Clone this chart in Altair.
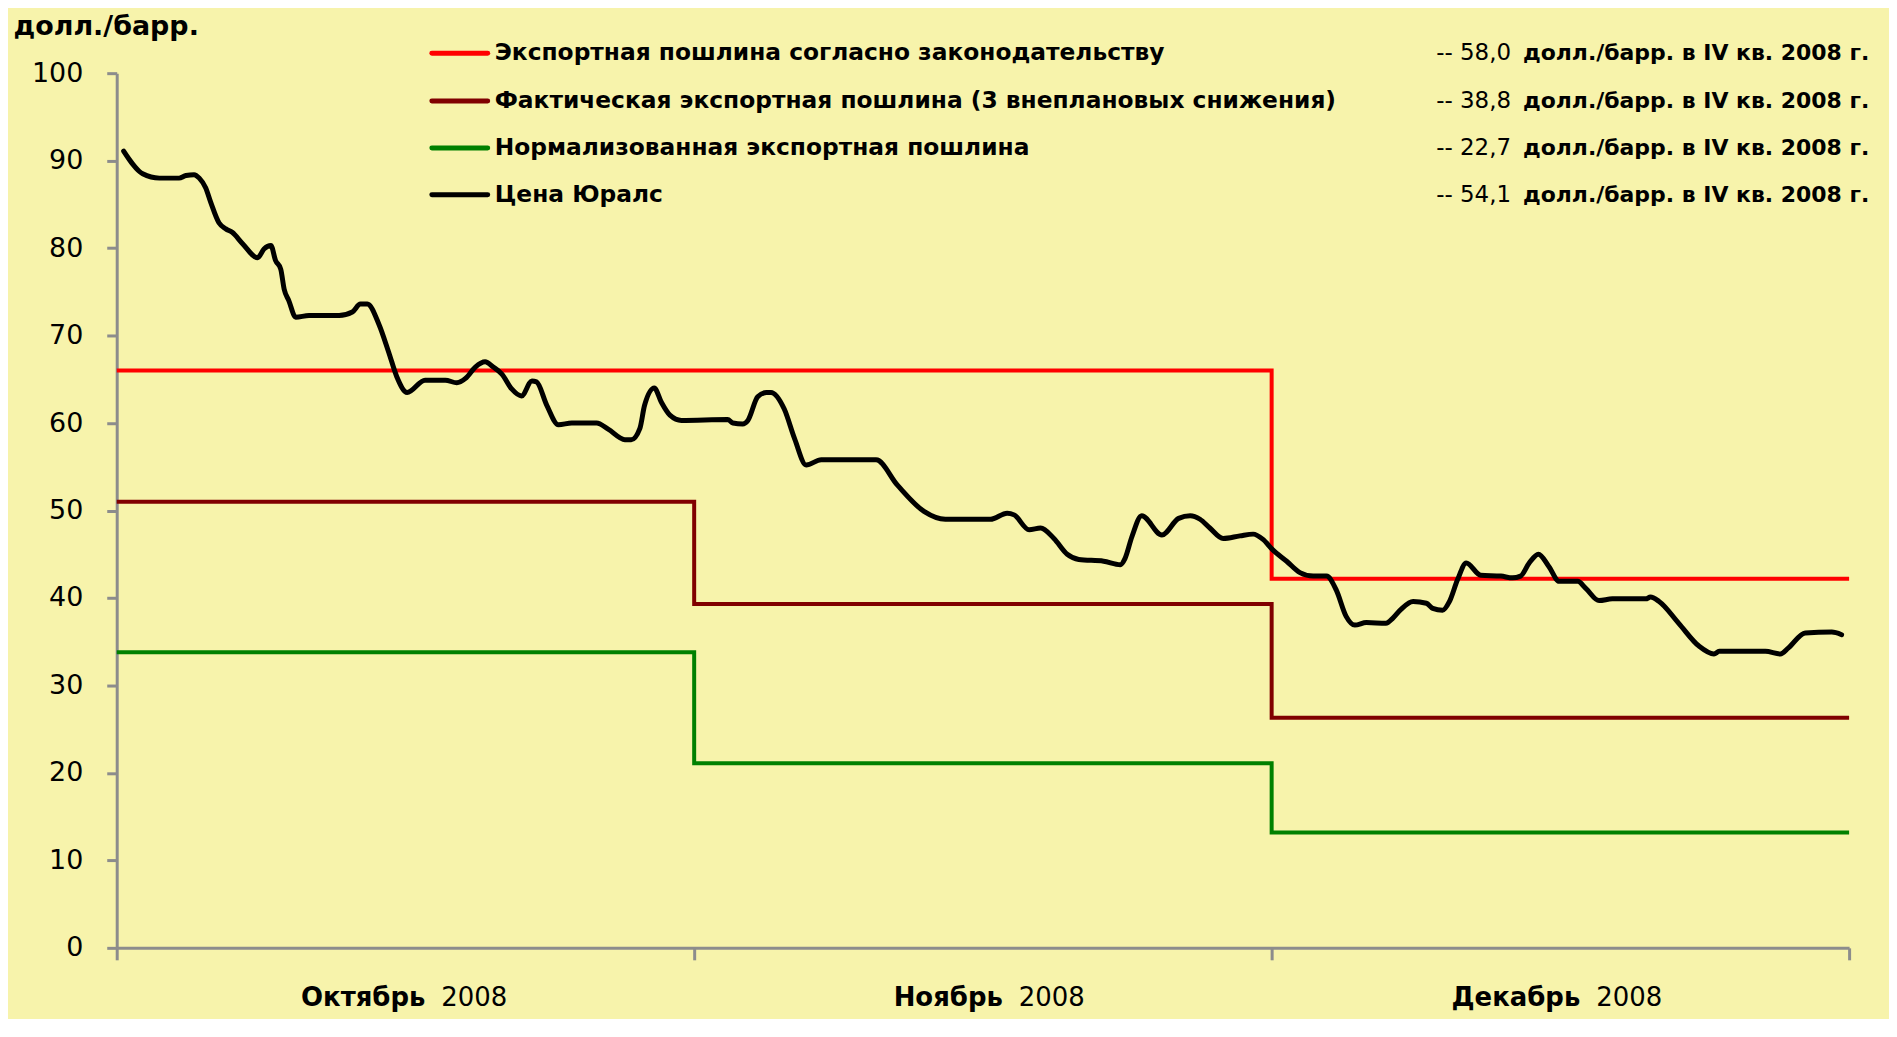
import altair as alt
import pandas as pd

# ---------------- data ----------------
# Urals price, t = months since 1 Oct 2008 (0..3), value in USD/bbl
urals_t = [0.012, 0.045, 0.074, 0.108, 0.120, 0.134, 0.143, 0.154, 0.163, 0.177,
           0.189, 0.200, 0.218, 0.244, 0.255, 0.267, 0.275, 0.284, 0.290, 0.298,
           0.310, 0.333, 0.385, 0.408, 0.422, 0.434, 0.454, 0.471, 0.485, 0.503,
           0.534, 0.569, 0.589, 0.604, 0.621, 0.638, 0.652, 0.667, 0.684, 0.701,
           0.719, 0.727, 0.745, 0.765, 0.788, 0.831, 0.851, 0.880, 0.891, 0.906,
           0.914, 0.931, 0.943, 0.958, 0.978, 1.058, 1.067, 1.084, 1.093, 1.110,
           1.125, 1.133, 1.156, 1.174, 1.194, 1.220, 1.248, 1.315, 1.352, 1.398,
           1.435, 1.513, 1.542, 1.554, 1.580, 1.600, 1.623, 1.646, 1.666, 1.709,
           1.738, 1.746, 1.758, 1.775, 1.810, 1.839, 1.859, 1.876, 1.893, 1.916,
           1.945, 1.968, 1.985, 2.002, 2.026, 2.049, 2.072, 2.095, 2.112, 2.129,
           2.144, 2.164, 2.198, 2.210, 2.224, 2.245, 2.268, 2.279, 2.296, 2.308,
           2.322, 2.337, 2.362, 2.397, 2.417, 2.431, 2.446, 2.462, 2.480, 2.498,
           2.530, 2.544, 2.567, 2.590, 2.648, 2.656, 2.671, 2.705, 2.740, 2.766,
           2.775, 2.855, 2.881, 2.895, 2.924, 2.970, 2.987]
urals_v = [91.1, 88.5, 88.0, 88.0, 88.3, 88.4, 88.0, 86.9, 85.2, 82.9,
           82.2, 81.8, 80.5, 78.9, 79.9, 80.3, 78.6, 77.6, 75.3, 74.0,
           72.1, 72.3, 72.3, 72.7, 73.6, 73.6, 71.3, 68.1, 65.3, 63.5,
           64.9, 64.9, 64.6, 65.1, 66.4, 67.0, 66.4, 65.6, 63.9, 63.1,
           64.8, 64.7, 62.0, 59.8, 60.0, 60.0, 59.3, 58.1, 58.1, 59.4,
           62.0, 64.0, 62.4, 60.9, 60.3, 60.4, 60.0, 59.9, 60.3, 63.0,
           63.5, 63.5, 61.6, 58.2, 55.2, 55.8, 55.8, 55.8, 52.9, 49.9,
           49.0, 49.0, 49.7, 49.5, 47.8, 48.0, 46.8, 45.0, 44.4, 44.2,
           43.8, 44.5, 47.0, 49.4, 47.2, 49.1, 49.4, 49.0, 48.0, 46.8,
           47.1, 47.3, 46.7, 45.5, 44.2, 42.9, 42.5, 42.5, 40.9, 37.9,
           36.9, 37.2, 37.1, 37.7, 38.7, 39.6, 39.4, 38.8, 38.6, 39.6,
           42.1, 44.0, 42.6, 42.5, 42.3, 42.5, 44.0, 45.0, 43.6, 41.9,
           41.9, 41.1, 39.7, 39.9, 39.9, 40.1, 39.6, 37.1, 34.5, 33.6,
           33.9, 33.9, 33.6, 34.3, 36.0, 36.1, 35.8]
assert len(urals_t) == len(urals_v)

# step series: value valid from each boundary (month start) onward
boundaries = [0, 1, 2, 3]
legal_duty = [66.0, 66.0, 42.2, 42.2]
actual_duty = [51.0, 39.3, 26.3, 26.3]
normal_duty = [33.8, 21.1, 13.2, 13.2]

series_names = [
    "Экспортная пошлина согласно законодательству",
    "Фактическая экспортная пошлина (3 внеплановых снижения)",
    "Нормализованная экспортная пошлина",
    "Цена Юралс",
]
series_colors = ["#FF0000", "#800000", "#008000", "#000000"]
series_avg = ["-- 58,0", "-- 38,8", "-- 22,7", "-- 54,1"]
avg_unit = "долл./барр. в IV кв. 2008 г."

months = ["Октябрь", "Ноябрь", "Декабрь"]
month_mid = [0.5, 1.5, 2.5]
year_label = "2008"
y_ticks = list(range(0, 101, 10))

# ---------------- build tables ----------------
urals_df = pd.DataFrame({"t": urals_t, "v": urals_v})

step_rows = []
for name, color, vals in zip(series_names[:3], series_colors[:3],
                             [legal_duty, actual_duty, normal_duty]):
    for t, v in zip(boundaries, vals):
        step_rows.append({"series": name, "color": color, "t": t, "v": v})
steps_df = pd.DataFrame(step_rows)

month_df = pd.DataFrame({"name": months, "mid": month_mid, "year": [year_label] * 3})

FONT = "DejaVu Sans"
AXIS_GREY = "#8c8c8c"
W, H = 1737, 877
LEGEND_ROW_PX = [-20, 28, 75, 122]   # layout of the legend rows (pixels from plot top)

xscale = alt.Scale(domain=[0, 3], nice=False, zero=False)
yscale = alt.Scale(domain=[0, 100], nice=False)

x_axis = alt.Axis(values=boundaries, labels=False, title=None, grid=False,
                  domainColor=AXIS_GREY, domainWidth=3, tickColor=AXIS_GREY,
                  tickWidth=3, tickSize=12)
y_axis = alt.Axis(values=y_ticks, grid=False, domainColor=AXIS_GREY, domainWidth=3,
                  tickColor=AXIS_GREY, tickWidth=3, tickSize=10,
                  labelFont=FONT, labelFontSize=27, labelColor="black",
                  labelPadding=24,
                  title="долл./барр.", titleAngle=0, titleAlign="left",
                  titleBaseline="middle", titleX=-104, titleY=-47,
                  titleFont=FONT, titleFontSize=27, titleFontWeight="bold",
                  titleColor="black")

steps = alt.Chart(steps_df).mark_line(
    interpolate="step-after", strokeWidth=4, strokeJoin="miter", strokeCap="butt"
).encode(
    x=alt.X("t:Q", scale=xscale, axis=x_axis),
    y=alt.Y("v:Q", scale=yscale, axis=y_axis),
    color=alt.Color("color:N", scale=None),
    detail="series:N",
)

curve = alt.Chart(urals_df).mark_line(
    color="black", strokeWidth=5, interpolate="monotone",
    strokeCap="round", strokeJoin="round"
).encode(
    x=alt.X("t:Q", scale=xscale),
    y=alt.Y("v:Q", scale=yscale),
)

month_names = alt.Chart(month_df).mark_text(
    align="right", baseline="middle", dx=20, font=FONT, fontWeight="bold",
    fontSize=26, color="black"
).encode(
    x=alt.X("mid:Q", scale=xscale),
    y=alt.value(927),
    text="name:N",
)
month_years = alt.Chart(month_df).mark_text(
    align="left", baseline="middle", dx=36, font=FONT, fontWeight="normal",
    fontSize=26, color="black"
).encode(
    x=alt.X("mid:Q", scale=xscale),
    y=alt.value(927),
    text="year:N",
)

layers = [steps, curve, month_names, month_years]

# legend (built by hand, one row per series)
for i, (name, color, avg) in enumerate(zip(series_names, series_colors, series_avg)):
    row_df = pd.DataFrame({"name": [name], "avg": [avg], "unit": [avg_unit]})
    py = LEGEND_ROW_PX[i]
    layers.append(alt.Chart(row_df).mark_rule(
        strokeWidth=5, strokeCap="round", color=color
    ).encode(x=alt.value(316), x2=alt.value(372), y=alt.value(py)))
    layers.append(alt.Chart(row_df).mark_text(
        align="left", baseline="middle", font=FONT, fontWeight="bold",
        fontSize=23.4, color="black"
    ).encode(x=alt.value(379), y=alt.value(py), text="name:N"))
    layers.append(alt.Chart(row_df).mark_text(
        align="left", baseline="middle", font=FONT, fontWeight="normal",
        fontSize=23, color="black"
    ).encode(x=alt.value(1323), y=alt.value(py), text="avg:N"))
    layers.append(alt.Chart(row_df).mark_text(
        align="left", baseline="middle", font=FONT, fontWeight="bold",
        fontSize=22, color="black"
    ).encode(x=alt.value(1410), y=alt.value(py), text="unit:N"))

chart = alt.layer(*layers).properties(
    width=W, height=H,
    padding={"left": 109, "top": 64, "right": 40, "bottom": 70},
    autosize=alt.AutoSizeParams(type="none"),
    background="#F7F3AB",
).configure_view(strokeWidth=0)

chart.save("out.html", embed_options={"renderer": "svg", "actions": False})
